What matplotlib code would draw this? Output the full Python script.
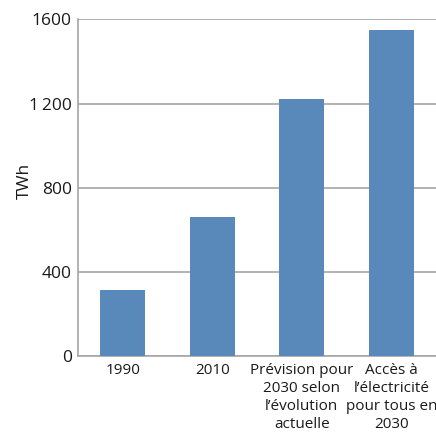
import matplotlib
matplotlib.use("Agg")
import matplotlib.pyplot as plt

categories = ["1990", "2010", "Prévision pour\n2030 selon\nl\u2019évolution\nactuelle",
              "Accès à\nl\u2019électricité\npour tous en\n2030"]
values = [315, 660, 1222, 1550]
yticks = [0, 400, 800, 1200, 1600]
ytick_labels = ["0", "400", "800", "1\u2009200", "1600"]

plt.rcParams['font.family'] = ['Open Sans', 'DejaVu Sans']

fig = plt.figure(figsize=(4.36, 4.36), dpi=100)
ax = fig.add_axes([78/436, (436-356.3)/436, 358/436, (356.3-19.3)/436])
x = range(len(categories))
ax.bar(x, values, width=0.5, color="#5889BA", zorder=3)
ax.set_xlim(-0.5, 3.5)
ax.set_ylim(0, 1600)
ax.set_yticks(yticks)
ax.set_yticklabels(ytick_labels, fontsize=12.5, color="#1a1a1a")
ax.set_xticks(list(x))
ax.set_xticklabels(categories, fontsize=11, color="#1a1a1a", linespacing=1.28, va="top")
ax.tick_params(axis='y', length=0, pad=4.5)
ax.tick_params(axis='x', length=0, pad=5)
ax.yaxis.grid(True, color="#a6a6a6", linewidth=1.2, zorder=0)
for s in ["top", "right"]:
    ax.spines[s].set_visible(False)
for s in ["left", "bottom"]:
    ax.spines[s].set_color("#a6a6a6")
    ax.spines[s].set_linewidth(1.2)
ax.set_ylabel("TWh", fontsize=12.5, color="#1a1a1a")
ax.yaxis.set_label_coords(-0.125, 0.52)
fig.savefig("out.png", dpi=100)
